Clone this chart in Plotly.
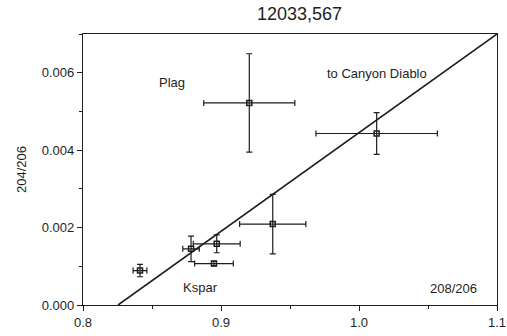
import plotly.graph_objects as go

# 208Pb/206Pb vs 204Pb/206Pb for mineral separates of 12033,567
ratio_208_206 = [0.9205, 1.0128, 0.9375, 0.8783, 0.8969, 0.8949, 0.8413]
err_208_206 = [0.033, 0.044, 0.024, 0.006, 0.017, 0.014, 0.005]
ratio_204_206 = [0.00522, 0.00443, 0.00209, 0.00145, 0.00158, 0.00107, 0.00089]
err_204_206 = [0.00127, 0.00054, 0.00077, 0.00033, 0.00023, 0.00006, 0.00016]

# mixing line toward Canyon Diablo troilite
line_x = [0.8254, 1.1]
line_y = [0.0, 0.007]

x_ticks = [0.8, 0.9, 1.0, 1.1]
x_tick_text = ["0.8", "0.9", "1.0", "1.1"]
y_ticks = [0.000, 0.002, 0.004, 0.006]
y_tick_text = ["0.000", "0.002", "0.004", "0.006"]

ink = "#1e1e1e"
font_family = "Liberation Sans, Arial, sans-serif"

fig = go.Figure()

fig.add_trace(go.Scatter(
    x=line_x, y=line_y, mode="lines",
    line=dict(color=ink, width=1.6),
    hoverinfo="skip", showlegend=False,
))

fig.add_trace(go.Scatter(
    x=ratio_208_206, y=ratio_204_206, mode="markers",
    marker=dict(symbol="square-open", size=5, color=ink, line=dict(width=1.5, color=ink)),
    error_x=dict(type="data", array=err_208_206, color=ink, thickness=1.2, width=3),
    error_y=dict(type="data", array=err_204_206, color=ink, thickness=1.2, width=3),
    showlegend=False,
))

labels = [
    ("Plag", 0.8645, 0.00574),
    ("to Canyon Diablo", 1.013, 0.00597),
    ("Kspar", 0.8855, 0.00045),
    ("208/206", 1.0688, 0.00043),
]
for text, lx, ly in labels:
    fig.add_annotation(x=lx, y=ly, text=text, showarrow=False,
                       font=dict(family=font_family, size=13, color=ink))

fig.update_layout(
    template="none",
    width=507, height=336,
    margin=dict(l=83, r=10, t=34, b=31),
    paper_bgcolor="white", plot_bgcolor="white",
    title=dict(text="12033,567", x=0.523, xref="paper", xanchor="center",
               y=0.958, yref="container", yanchor="middle",
               font=dict(family=font_family, size=18, color=ink)),
    font=dict(family=font_family, size=13, color=ink),
)

fig.update_xaxes(
    automargin=False,
    range=[0.8, 1.1], tickvals=x_ticks, ticktext=x_tick_text,
    showgrid=False, zeroline=False,
    showline=True, linecolor=ink, linewidth=1.3, mirror=True,
    ticks="outside", ticklen=5, tickcolor=ink, tickwidth=1,
    minor=dict(dtick=0.05, ticks="outside", ticklen=3, tickcolor=ink, showgrid=False),
    tickfont=dict(size=13),
)
fig.update_yaxes(
    automargin=False,
    range=[0, 0.007], tickvals=y_ticks, ticktext=y_tick_text,
    showgrid=False, zeroline=False,
    showline=True, linecolor=ink, linewidth=1.3, mirror=True,
    ticks="outside", ticklen=5, tickcolor=ink, tickwidth=1,
    minor=dict(dtick=0.001, ticks="outside", ticklen=3, tickcolor=ink, showgrid=False),
    tickfont=dict(size=13),
    title=dict(text="204/206", font=dict(size=13), standoff=12),
)

fig.write_html("out.html")
